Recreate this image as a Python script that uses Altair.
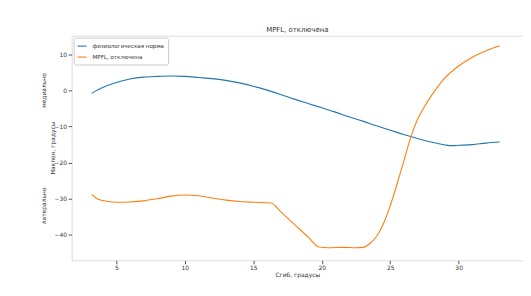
import altair as alt
import pandas as pd

# physiological norm (blue)
norm_x = [3.2, 4, 5, 6, 7, 8, 9, 10, 11, 12, 13, 14, 15, 16, 17, 18, 19, 20, 21, 22,
          23, 24, 25, 26, 27, 28, 29, 29.5, 30, 31, 32, 33]
norm_y = [-0.8, 0.8, 2.2, 3.2, 3.7, 3.9, 4.0, 3.9, 3.6, 3.3, 2.8, 2.1, 1.2, 0.1, -1.1,
          -2.4, -3.6, -4.8, -6.0, -7.3, -8.5, -9.8, -11.0, -12.2, -13.3, -14.3, -15.1,
          -15.3, -15.2, -15.0, -14.6, -14.3]

# MPFL disabled (orange)
mpfl_x = [3.2, 3.6, 4.0, 5, 6, 7, 8, 9, 10, 11, 12, 13, 14, 15, 16.3, 17, 18, 19, 19.8,
          20.5, 21.5, 22.5, 23, 23.5, 24, 24.5, 25, 25.5, 26, 26.5, 27, 27.5, 28, 29,
          30, 31, 32, 33]
mpfl_y = [-28.8, -30.0, -30.5, -31.0, -30.9, -30.6, -30.0, -29.3, -29.0, -29.2, -29.8,
          -30.4, -30.8, -31.0, -31.2, -33.6, -37.1, -40.6, -43.4, -43.6, -43.5, -43.6,
          -43.5, -42.5, -40.5, -37.0, -32.0, -26.0, -19.5, -13.0, -8.0, -4.5, -1.5,
          3.5, 6.8, 9.2, 11.0, 12.4]

series_names = ["физиологическая норма", "MPFL, отключена"]
series_colors = ["#1f77b4", "#ff7f0e"]
x_ticks = [5, 10, 15, 20, 25, 30]
y_ticks = [-40, -30, -20, -10, 0, 10]

side_labels = ["медиально", "латерально"]
side_values = [0, -32]

rows = []
for i, (xs, ys) in enumerate([(norm_x, norm_y), (mpfl_x, mpfl_y)]):
    for j, (a, b) in enumerate(zip(xs, ys)):
        rows.append({"x": a, "y": b, "series": series_names[i], "order": j})
df = pd.DataFrame(rows)

FONT = "DejaVu Sans"

xscale = alt.Scale(domain=[1.74, 34.7], nice=False, zero=False)
yscale = alt.Scale(domain=[-47.1, 15.2], nice=False, zero=False)

lines = alt.Chart(df).mark_line(strokeWidth=1.1, interpolate="monotone").encode(
    x=alt.X("x:Q", scale=xscale,
            axis=alt.Axis(values=x_ticks, title="Сгиб, градусы", grid=False,
                          domain=False, tickSize=3.5, tickColor="#555",
                          labelFontSize=6, labelColor="#333", labelPadding=1,
                          titleFontSize=6, titleFontWeight="normal", titleColor="#333",
                          titlePadding=1, labelFont=FONT, titleFont=FONT)),
    y=alt.Y("y:Q", scale=yscale,
            axis=alt.Axis(values=y_ticks, title=None, grid=False, domain=False,
                          tickSize=3.5, tickColor="#555", labelFontSize=6,
                          labelColor="#333", labelPadding=1.5, labelFont=FONT)),
    color=alt.Color("series:N",
                    scale=alt.Scale(domain=series_names, range=series_colors),
                    legend=alt.Legend(title=None, orient="top-left", offset=2,
                                      fillColor="white", strokeColor="#cccccc",
                                      padding=3, cornerRadius=2,
                                      labelFontSize=5.6, labelFont=FONT,
                                      labelColor="#333", symbolType="stroke",
                                      symbolStrokeWidth=1.1, symbolSize=80,
                                      rowPadding=1, labelOffset=5)),
    order="order:Q",
)

side_df = pd.DataFrame({"label": side_labels, "y": side_values})
side = alt.Chart(side_df).mark_text(angle=270, fontSize=6, font=FONT, color="#333",
                                    align="center", baseline="middle").encode(
    x=alt.value(-28),
    y=alt.Y("y:Q", scale=yscale),
    text="label:N",
)

ytitle = alt.Chart(pd.DataFrame({"t": ["Наклон, градусы"]})).mark_text(
    angle=270, fontSize=6, font=FONT, color="#333", align="center", baseline="middle"
).encode(x=alt.value(-19), y=alt.value(113), text="t:N")

chart = alt.layer(lines, side, ytitle).properties(
    width=454, height=226,
    title=alt.TitleParams("MPFL, отключена", fontSize=7, font=FONT,
                          fontWeight="normal", color="#333", offset=3),
    autosize=alt.AutoSizeParams(type="none"),
    padding={"left": 64, "top": 27, "right": 0, "bottom": 30},
).configure_view(stroke="#666", strokeWidth=0.8).configure(background="white")

chart.save("out.html", embed_options={"renderer": "svg", "actions": False})
